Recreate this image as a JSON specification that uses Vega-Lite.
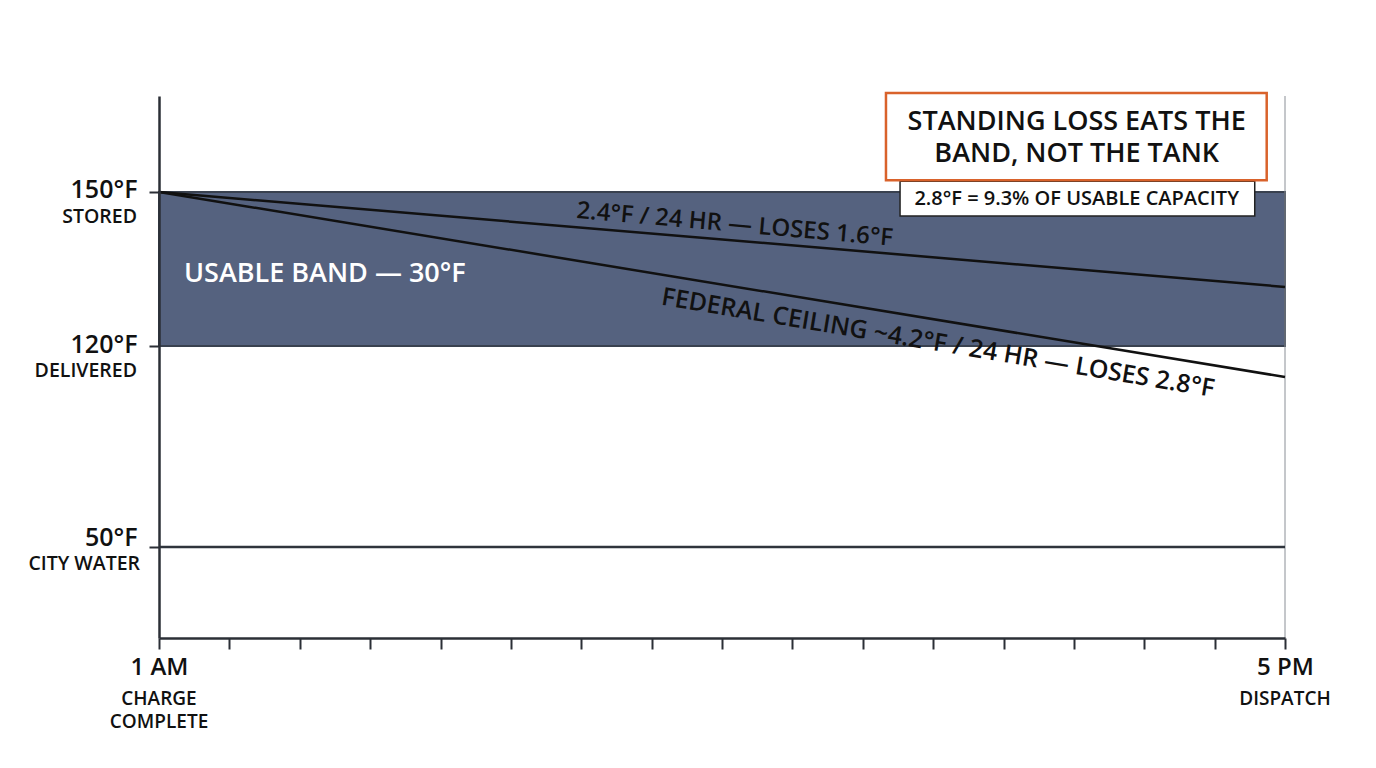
{
  "$schema": "https://vega.github.io/schema/vega-lite/v6.json",
  "width": 1126,
  "height": 542,
  "autosize": "none",
  "padding": {"left": 159, "top": 96, "right": 91, "bottom": 130},
  "background": "white",
  "data": {"values": [{"note": "annotation"}]},
  "config": {"view": {"stroke": null}, "font": "Open Sans", "text": {"font": "Open Sans", "color": "#111111", "fontWeight": 600}},
  "layer": [
    {
      "data": {"values": [{"start": 1, "end": 17, "low": 120, "high": 150}]},
      "mark": {"type": "rect", "fill": "#55627f", "stroke": "#39414f", "strokeWidth": 2},
      "encoding": {
        "x": {
          "field": "start", "type": "quantitative",
          "scale": {"domain": [1, 17], "nice": false, "zero": false},
          "axis": {
            "title": null, "values": [1,2,3,4,5,6,7,8,9,10,11,12,13,14,15,16,17],
            "grid": false, "tickSize": 11, "tickWidth": 2, "tickColor": "#2b2f36",
            "domainColor": "#2b2f36", "domainWidth": 2.5, "labelFontSize": 24,
            "labelColor": "#111111", "labelPadding": 6, "labelFlush": false,
            "labelFont": "Open Sans", "labelFontWeight": 600, "labelOverlap": false,
            "labelExpr": "datum.value == 1 ? '1 AM' : datum.value == 17 ? '5 PM' : ''",
            "zindex": 2
          }
        },
        "x2": {"field": "end"},
        "y": {
          "field": "low", "type": "quantitative",
          "scale": {"domain": [18.3, 120, 168.7], "range": [542, 250, 0], "nice": false, "zero": false},
          "axis": {
            "title": null, "values": [50, 120, 150], "grid": false,
            "tickSize": 10, "tickWidth": 2, "tickColor": "#2b2f36",
            "domainColor": "#2b2f36", "domainWidth": 2.5, "labelFontSize": 25,
            "labelColor": "#111111", "labelPadding": 12, "labelFont": "Open Sans",
            "labelFontWeight": 600, "labelBaseline": "middle", "labelOverlap": false,
            "labelOffset": {"condition": {"test": "datum.value == 50", "value": -9}, "value": -2},
            "labelExpr": "datum.value + '°F'",
            "zindex": 2
          }
        },
        "y2": {"field": "high"}
      }
    },
    {
      "mark": {"type": "rule", "stroke": "#8a8f96", "strokeWidth": 1},
      "encoding": {"x": {"datum": 17}}
    },
    {
      "mark": {"type": "rule", "stroke": "#2f343c", "strokeWidth": 2.5},
      "encoding": {"x": {"datum": 1}, "x2": {"datum": 17}, "y": {"datum": 50}}
    },
    {
      "data": {"values": [
        {"series": "2.4°F / 24 hr", "hour": 1, "temp": 150},
        {"series": "2.4°F / 24 hr", "hour": 17, "temp": 131.5},
        {"series": "Federal ceiling", "hour": 1, "temp": 150},
        {"series": "Federal ceiling", "hour": 17, "temp": 109.2}
      ]},
      "mark": {"type": "line", "stroke": "#111111", "strokeWidth": 2.5},
      "encoding": {
        "x": {"field": "hour", "type": "quantitative"},
        "y": {"field": "temp", "type": "quantitative"},
        "detail": {"field": "series"}
      }
    },
    {
      "data": {"values": [{"temp": 150, "sub": "STORED"}, {"temp": 120, "sub": "DELIVERED"}]},
      "mark": {"type": "text", "align": "right", "baseline": "middle", "dx": -22, "dy": 25, "fontSize": 19.5},
      "encoding": {"x": {"datum": 1}, "y": {"field": "temp", "type": "quantitative"}, "text": {"field": "sub"}}
    },
    {
      "data": {"values": [{"temp": 50, "sub": "CITY WATER"}]},
      "mark": {"type": "text", "align": "right", "baseline": "middle", "dx": -19, "dy": 17, "fontSize": 19.5},
      "encoding": {"x": {"datum": 1}, "y": {"field": "temp", "type": "quantitative"}, "text": {"field": "sub"}}
    },
    {
      "data": {"values": [{"hour": 1, "sub": "CHARGE", "line": 0}, {"hour": 1, "sub": "COMPLETE", "line": 1}, {"hour": 17, "sub": "DISPATCH", "line": 0}]},
      "transform": [{"filter": "datum.line == 0"}],
      "mark": {"type": "text", "align": "center", "baseline": "middle", "dy": 61, "fontSize": 19},
      "encoding": {"x": {"field": "hour", "type": "quantitative"}, "y": {"datum": 18.3}, "text": {"field": "sub"}}
    },
    {
      "data": {"values": [{"hour": 1, "sub": "CHARGE", "line": 0}, {"hour": 1, "sub": "COMPLETE", "line": 1}, {"hour": 17, "sub": "DISPATCH", "line": 0}]},
      "transform": [{"filter": "datum.line == 1"}],
      "mark": {"type": "text", "align": "center", "baseline": "middle", "dy": 84, "fontSize": 19},
      "encoding": {"x": {"field": "hour", "type": "quantitative"}, "y": {"datum": 18.3}, "text": {"field": "sub"}}
    },
    {
      "mark": {"type": "text", "align": "left", "baseline": "middle", "fontSize": 27, "color": "white"},
      "encoding": {"x": {"datum": 1.355}, "y": {"datum": 134}, "text": {"value": "USABLE BAND — 30°F"}}
    },
    {
      "mark": {"type": "text", "align": "center", "baseline": "middle", "fontSize": 24, "angle": 5},
      "encoding": {"x": {"datum": 9.18}, "y": {"datum": 143.6}, "text": {"value": "2.4°F / 24 HR — LOSES 1.6°F"}}
    },
    {
      "mark": {"type": "text", "align": "center", "baseline": "middle", "fontSize": 25, "angle": 9.5},
      "encoding": {"x": {"datum": 12.07}, "y": {"datum": 120.6}, "text": {"value": "FEDERAL CEILING ~4.2°F / 24 HR — LOSES 2.8°F"}}
    },
    {
      "mark": {"type": "rect", "fill": "white", "stroke": "#222222", "strokeWidth": 1.5},
      "encoding": {"x": {"datum": 11.53}, "x2": {"datum": 16.57}, "y": {"datum": 152.1}, "y2": {"datum": 145.3}}
    },
    {
      "mark": {"type": "rect", "fill": "white", "stroke": "#d9622b", "strokeWidth": 2.5},
      "encoding": {"x": {"datum": 11.33}, "x2": {"datum": 16.74}, "y": {"datum": 169.3}, "y2": {"datum": 152.3}}
    },
    {
      "mark": {"type": "text", "align": "center", "baseline": "middle", "fontSize": 27},
      "encoding": {"x": {"datum": 14.04}, "y": {"datum": 163.6}, "text": {"value": "STANDING LOSS EATS THE"}}
    },
    {
      "mark": {"type": "text", "align": "center", "baseline": "middle", "fontSize": 27},
      "encoding": {"x": {"datum": 14.04}, "y": {"datum": 157.4}, "text": {"value": "BAND, NOT THE TANK"}}
    },
    {
      "mark": {"type": "text", "align": "center", "baseline": "middle", "fontSize": 20},
      "encoding": {"x": {"datum": 14.04}, "y": {"datum": 148.6}, "text": {"value": "2.8°F = 9.3% OF USABLE CAPACITY"}}
    }
  ]
}
